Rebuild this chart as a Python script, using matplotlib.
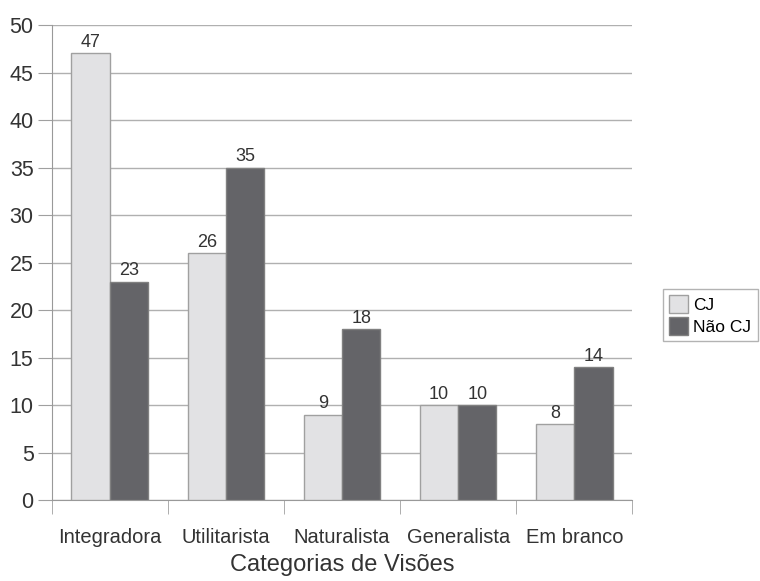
import matplotlib.pyplot as plt
import numpy as np

plt.rcParams['font.family'] = ['Liberation Sans', 'DejaVu Sans']

categorias = ['Integradora', 'Utilitarista', 'Naturalista', 'Generalista', 'Em branco']
cj = [47, 26, 9, 10, 8]
nao_cj = [23, 35, 18, 10, 14]

fig = plt.figure(figsize=(7.6, 5.81), dpi=100)
ax = fig.add_axes([0.068, 0.139, 0.764, 0.818])

x = np.arange(len(categorias))
w = 0.33
b1 = ax.bar(x - w/2, cj, w, color='#e2e2e4', edgecolor='#a0a0a0', linewidth=1, label='CJ', zorder=3)
b2 = ax.bar(x + w/2, nao_cj, w, color='#646468', edgecolor='#808080', linewidth=1, label='Não CJ', zorder=3)

for bars in (b1, b2):
    for r in bars:
        ax.text(r.get_x() + r.get_width()/2, r.get_height() + 0.25, str(int(r.get_height())),
                ha='center', va='bottom', fontsize=13, color='#333333')

ax.set_xlim(-0.5, len(categorias) - 0.5)
ax.set_ylim(0, 50)
ax.set_yticks(range(0, 51, 5))
ax.yaxis.grid(True, color='#b0b0b0', linewidth=1, zorder=0)
ax.tick_params(axis='y', length=10, color='#a0a0a0', labelsize=15.5, labelcolor='#333333', pad=3)

ax.set_xticks(x)
ax.set_xticklabels(categorias)
ax.set_xticks(np.arange(-0.5, len(categorias) + 0.5, 1), minor=True)
ax.tick_params(axis='x', which='major', length=0, labelsize=14.5, labelcolor='#333333', pad=20)
ax.tick_params(axis='x', which='minor', length=10, color='#a0a0a0')

for s in ['top', 'right']:
    ax.spines[s].set_visible(False)
for s in ['left', 'bottom']:
    ax.spines[s].set_color('#999999')

ax.set_xlabel('Categorias de Visões', fontsize=17, color='#333333', labelpad=5)

ax.legend(loc='center left', bbox_to_anchor=(1.038, 0.39), fontsize=12.5, frameon=True,
          fancybox=False, edgecolor='#a0a0a0', handlelength=1.1, handleheight=1.2,
          handletextpad=0.3, borderpad=0.35, labelspacing=0.25)

plt.savefig('out.png', dpi=100)
